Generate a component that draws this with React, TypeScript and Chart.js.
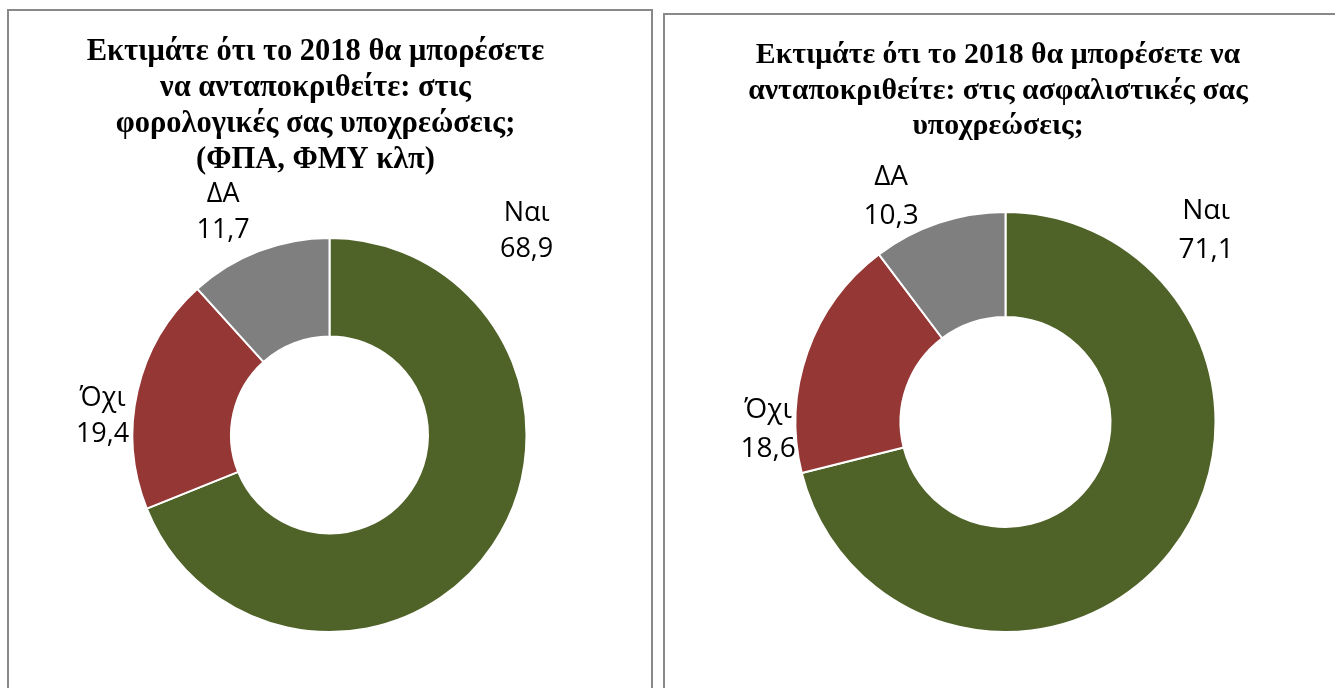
import React, { useEffect, useRef } from "react";
import { Chart, registerables } from "chart.js";

Chart.register(...registerables);

// ---- data ----
const categories = ["Ναι", "Όχι", "ΔΑ"];
const taxValues = [68.9, 19.4, 11.7];
const insuranceValues = [71.1, 18.6, 10.3];
const taxTitle = [
  "Εκτιμάτε ότι το 2018 θα μπορέσετε",
  "να ανταποκριθείτε: στις",
  "φορολογικές σας υποχρεώσεις;",
  "(ΦΠΑ, ΦΜΥ κλπ)",
];
const insuranceTitle = [
  "Εκτιμάτε ότι το 2018 θα μπορέσετε να",
  "ανταποκριθείτε: στις ασφαλιστικές σας",
  "υποχρεώσεις;",
];

// ---- styles ----
const sliceColors = ["#4F6228", "#953735", "#7F7F7F"];
const borderColor = "#898989";

const fmt = (v: number) => v.toFixed(1).replace(".", ",");

const panelTitlePlugin = {
  id: "panelTitle",
  afterDraw(chart: any, _args: any, opts: any) {
    const { ctx, chartArea } = chart;
    const cx = (chartArea.left + chartArea.right) / 2 + (opts.offsetX || 0);
    ctx.save();
    ctx.font = opts.font;
    ctx.fillStyle = opts.color;
    ctx.textAlign = "center";
    ctx.textBaseline = "alphabetic";
    (opts.lines as string[]).forEach((line, i) => {
      ctx.fillText(line, cx, opts.firstBaseline + i * opts.lineHeight);
    });
    ctx.restore();
  },
};

const sliceLabelsPlugin = {
  id: "sliceLabels",
  afterDatasetsDraw(chart: any, _args: any, opts: any) {
    const { ctx } = chart;
    const meta = chart.getDatasetMeta(0);
    const labels = chart.data.labels as string[];
    const values = chart.data.datasets[0].data as number[];
    ctx.save();
    ctx.font = opts.font;
    ctx.fillStyle = opts.color;
    ctx.textAlign = "center";
    ctx.textBaseline = "middle";
    meta.data.forEach((arc: any, i: number) => {
      const p = arc.getProps(["x", "y", "outerRadius"], true);
      const place = opts.placements[i];
      const a = (place.angle * Math.PI) / 180;
      const px = p.x + Math.cos(a) * p.outerRadius * place.dist;
      const py = p.y + Math.sin(a) * p.outerRadius * place.dist;
      ctx.fillText(labels[i], px, py - opts.lineHeight / 2);
      ctx.fillText(fmt(values[i]), px, py + opts.lineHeight / 2);
    });
    ctx.restore();
  },
};

type PanelProps = {
  values: number[];
  title: string[];
  box: { left: number; top: number; width: number; height: number };
  canvasSize: { width: number; height: number };
  padding: { left: number; right: number; top: number; bottom: number };
  titleOpts: { offsetX: number; firstBaseline: number; lineHeight: number; font: string };
  labelOpts: {
    font: string;
    lineHeight: number;
    placements: { angle: number; dist: number }[];
  };
};

function DonutPanel(props: PanelProps) {
  const ref = useRef<HTMLCanvasElement | null>(null);
  useEffect(() => {
    if (!ref.current) return;
    const chart = new Chart(ref.current, {
      type: "doughnut",
      data: {
        labels: categories,
        datasets: [
          {
            data: props.values,
            backgroundColor: sliceColors,
            borderColor: "#ffffff",
            borderWidth: 2,
            hoverOffset: 0,
          },
        ],
      },
      options: {
        animation: false,
        responsive: false,
        maintainAspectRatio: false,
        cutout: "50%",
        events: [],
        layout: { padding: props.padding },
        plugins: {
          legend: { display: false },
          tooltip: { enabled: false },
          title: { display: false },
          // @ts-ignore
          panelTitle: {
            lines: props.title,
            color: "#000000",
            ...props.titleOpts,
          },
          // @ts-ignore
          sliceLabels: {
            color: "#000000",
            ...props.labelOpts,
          },
        },
      } as any,
      plugins: [panelTitlePlugin, sliceLabelsPlugin],
    });
    return () => chart.destroy();
  }, []);

  return (
    <div
      style={{
        position: "absolute",
        left: props.box.left,
        top: props.box.top,
        width: props.box.width,
        height: props.box.height,
        border: `2px solid ${borderColor}`,
        background: "#ffffff",
      }}
    >
      <canvas
        ref={ref}
        width={props.canvasSize.width}
        height={props.canvasSize.height}
        style={{ display: "block", width: props.canvasSize.width, height: props.canvasSize.height }}
      />
    </div>
  );
}

export default function App() {
  return (
    <div
      style={{
        position: "fixed",
        left: 0,
        top: 0,
        width: 1335,
        height: 688,
        overflow: "hidden",
        background: "#ffffff",
      }}
    >
      <DonutPanel
        values={taxValues}
        title={taxTitle}
        box={{ left: 7, top: 9, width: 642, height: 700 }}
        canvasSize={{ width: 642, height: 677 }}
        padding={{ left: 122.5, right: 123.5, top: 226, bottom: 55 }}
        titleOpts={{ offsetX: -14, firstBaseline: 48.5, lineHeight: 36, font: "bold 30.5px 'Liberation Serif'" }}
        labelOpts={{
          font: "27px 'Open Sans'",
          lineHeight: 36,
          placements: [
            { angle: -45.9, dist: 1.438 },
            { angle: -175.2, dist: 1.156 },
            { angle: -115.5, dist: 1.254 },
          ],
        }}
      />
      <DonutPanel
        values={insuranceValues}
        title={insuranceTitle}
        box={{ left: 663, top: 13, width: 700, height: 700 }}
        canvasSize={{ width: 670, height: 673 }}
        padding={{ left: 129.5, right: 118.5, top: 196, bottom: 55 }}
        titleOpts={{ offsetX: -7.5, firstBaseline: 48, lineHeight: 35.5, font: "bold 29.8px 'Liberation Serif'" }}
        labelOpts={{
          font: "28px 'Open Sans'",
          lineHeight: 39,
          placements: [
            { angle: -43.6, dist: 1.319 },
            { angle: 178.1, dist: 1.131 },
            { angle: -116.9, dist: 1.204 },
          ],
        }}
      />
    </div>
  );
}
